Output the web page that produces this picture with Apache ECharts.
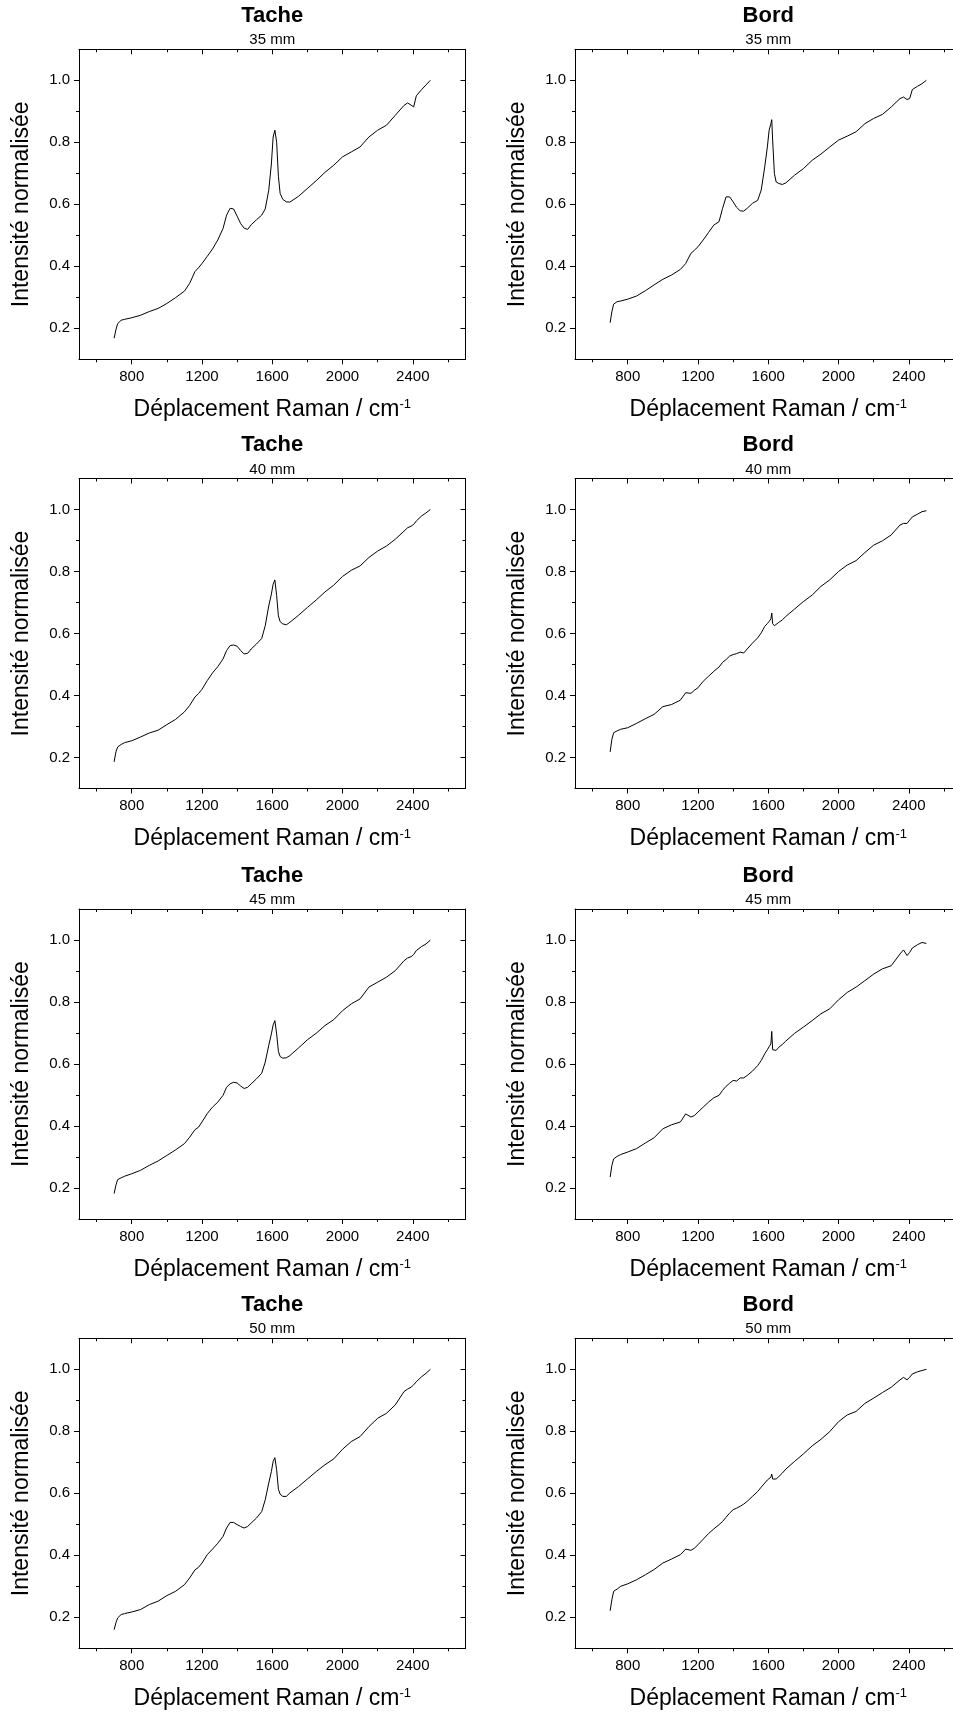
<!DOCTYPE html>
<html>
<head>
<meta charset="utf-8">
<script src="https://cdn.jsdelivr.net/npm/echarts@6/dist/echarts.min.js"></script>
<style>
html,body{margin:0;padding:0;background:#fff;overflow:hidden;}
#chart{width:953px;height:1715px;}
</style>
</head>
<body>
<div id="chart"></div>
<script>
// ---- Data ----
const ramanShift = [700,710,720,740,760,800,850,900,950,1000,1050,1100,1130,1160,1180,1200,1230,1260,1290,1320,1340,1360,1380,1400,1420,1440,1460,1480,1510,1540,1560,1580,1595,1605,1615,1620,1625,1635,1645,1660,1680,1700,1750,1800,1850,1900,1950,2000,2050,2100,2150,2200,2250,2300,2350,2370,2390,2405,2420,2450,2475,2500];

const tache35 = [.168,.195,.215,.226,.229, .234,.242,.254,.264,.280, .299,.320,.345,.383,.395, .409,.432,.456,.485,.522, .565,.587,.585,.562,.538, .523,.519,.534,.550,.565, .585,.645,.730,.817,.839, .845,.800,.690,.635,.616, .608,.607,.626,.651,.676, .703,.726,.753,.769,.785, .817,.839,.855,.887,.919, .927,.920,.914,.950,.970, .985,1.0];
const bord35 = [.218,.254,.278,.286,.288, .294,.304,.321,.340,.358, .372,.390,.409,.442,.452, .463,.485,.509,.533,.544, .587,.624,.624,.608,.590, .579,.578,.587,.603,.613, .646,.721,.785,.839,.860, .873,.807,.699,.672,.667, .664,.669,.694,.715,.742, .762,.785,.807,.820,.834, .860,.877,.890,.914,.941, .946,.938,.941,.970,.981, .989,1.0];
const tache40 = [.186,.218,.234,.242,.248, .254,.266,.279,.288,.306, .323,.347,.368,.395,.406, .420,.448,.473,.493,.518, .545,.561,.563,.559,.545, .534,.536,.550,.566,.584, .625,.689,.727,.759,.773, .775,.722,.657,.638,.631, .628,.636,.659,.684,.708, .734,.756,.784,.804,.818, .845,.866,.882,.904,.930, .941,.946,.952,.963,.979, .989,1.0];
const bord40 = [.218,.259,.280,.286,.291, .296,.310,.325,.339,.364, .371,.385,.409,.407,.417, .425,.446,.462,.478,.492, .507,.516,.527,.532,.535, .540,.537,.550,.569,.586, .602,.623,.632,.639,.647, .666,.632,.625,.628,.636, .644,.655,.679,.703,.724, .752,.773,.800,.821,.835, .861,.885,.899,.918,.950, .955,.955,.966,.976,.985, .993,.996];
const tache45 = [.182,.209,.227,.233,.238, .246,.257,.273,.287,.305, .323,.343,.364,.388,.396, .413,.440,.461,.477,.499, .525,.536,.541,.539,.529, .521,.525,.536,.552,.570, .606,.660,.697,.726,.740, .740,.697,.641,.624,.619, .620,.627,.652,.678,.699, .724,.743,.772,.794,.810, .848,.864,.880,.901,.933, .942,.946,.953,.966,.979, .987,1.0];
const bord45 = [.235,.273,.294,.302,.308, .316,.327,.345,.362,.391, .404,.413,.439,.429,.434, .445,.461,.477,.491,.499, .515,.528,.538,.547,.545, .555,.555,.563,.577,.595, .611,.633,.646,.656,.665, .705,.646,.641,.644,.654, .663,.674,.699,.719,.740, .762,.778,.807,.831,.848, .869,.890,.907,.917,.955, .968,.950,.960,.974,.985, .992,.989];
const tache50 = [.160,.182,.198,.209,.212, .217,.225,.241,.252,.270, .284,.305,.327,.353,.361, .375,.402,.420,.439,.461, .488,.506,.506,.499,.493, .488,.493,.504,.520,.541, .579,.633,.670,.703,.715, .721,.676,.613,.597,.590, .590,.601,.622,.646,.670, .692,.711,.742,.767,.783, .815,.842,.858,.885,.928, .936,.942,.950,.960,.976, .987,1.0];
const bord50 = [.221,.257,.284,.291,.300, .308,.321,.337,.354,.375, .388,.402,.420,.416,.423, .434,.452,.470,.485,.499, .509,.523,.536,.547,.552, .558,.565,.574,.590,.606, .620,.633,.643,.649,.652, .662,.646,.643,.646,.654, .665,.678,.703,.727,.753, .774,.799,.831,.853,.864, .890,.907,.925,.942,.966, .974,.966,.974,.985,.992, .996,1.0];

const panelTitles = ['Tache', 'Bord'];
const distances = ['35 mm', '40 mm', '45 mm', '50 mm'];
const xTickLabels = [800, 1200, 1600, 2000, 2400];
const xMinorTicks = [600, 1000, 1400, 1800, 2200, 2600];
const yTickLabels = [0.2, 0.4, 0.6, 0.8, 1.0];
const yMinorTicks = [0.3, 0.5, 0.7, 0.9];
const xName = 'Déplacement Raman / cm';
const xNameSup = '-1';
const yName = 'Intensité normalisée';

const panelData = [tache35, bord35, tache40, bord40, tache45, bord45, tache50, bord50];

// ---- Layout / style ----
const FONT = 'Liberation Sans, Arial, sans-serif';
const colLeft = [79, 575];
const rowTop = [49.3, 478.5, 909, 1338.3];
const plotW = 386.5, plotH = 310;
const X_MIN = 500, X_MAX = 2700, Y_MIN = 0.1, Y_MAX = 1.1;
const black = '#000';

const grid = [], xAxis = [], yAxis = [], series = [], graphic = [];

panelData.forEach((vals, i) => {
  const row = Math.floor(i / 2), col = i % 2;
  const left = colLeft[col], top = rowTop[row];
  grid.push({ left: left, top: top, width: plotW, height: plotH, containLabel: false, outerBoundsMode: 'none' });

  const xb = { type: 'value', gridIndex: i, min: X_MIN, max: X_MAX, splitLine: { show: false } };
  const yb = { type: 'value', gridIndex: i, min: Y_MIN, max: Y_MAX, splitLine: { show: false } };
  const lineOn = { show: true, onZero: false, lineStyle: { color: black, width: 1 } };
  const lineOff = { show: false, onZero: false };

  // bottom main axis
  xAxis.push(Object.assign({}, xb, {
    position: 'bottom', axisLine: lineOn,
    axisTick: { show: true, inside: false, length: 5, customValues: xTickLabels, lineStyle: { color: black, width: 1 } },
    axisLabel: { show: true, customValues: xTickLabels, formatter: v => String(v), margin: 10, fontSize: 15, color: black, fontFamily: FONT },
    name: xName + '{sup|' + xNameSup + '}', nameLocation: 'middle', nameGap: 39,
    nameTextStyle: { fontSize: 23, color: black, fontFamily: FONT,
      rich: { sup: { fontSize: 13, color: black, fontFamily: FONT, verticalAlign: 'top' } } }
  }));
  // bottom minor ticks
  xAxis.push(Object.assign({}, xb, {
    position: 'bottom', axisLine: lineOff,
    axisTick: { show: true, inside: false, length: 3, customValues: xMinorTicks, lineStyle: { color: black, width: 1 } },
    axisLabel: { show: false }
  }));
  // top main
  xAxis.push(Object.assign({}, xb, {
    position: 'top', axisLine: lineOn,
    axisTick: { show: true, inside: true, length: 5, customValues: xTickLabels, lineStyle: { color: black, width: 1 } },
    axisLabel: { show: false }
  }));
  // top minor
  xAxis.push(Object.assign({}, xb, {
    position: 'top', axisLine: lineOff,
    axisTick: { show: true, inside: true, length: 3, customValues: xMinorTicks, lineStyle: { color: black, width: 1 } },
    axisLabel: { show: false }
  }));

  // left main
  yAxis.push(Object.assign({}, yb, {
    position: 'left', axisLine: lineOn,
    axisTick: { show: true, inside: false, length: 5, customValues: yTickLabels, lineStyle: { color: black, width: 1 } },
    axisLabel: { show: true, customValues: yTickLabels, formatter: v => Number(v).toFixed(1), margin: 9, fontSize: 15, color: black, fontFamily: FONT },
    name: yName, nameLocation: 'middle', nameGap: 46,
    nameTextStyle: { fontSize: 23, color: black, fontFamily: FONT }
  }));
  // left minor
  yAxis.push(Object.assign({}, yb, {
    position: 'left', axisLine: lineOff,
    axisTick: { show: true, inside: false, length: 3, customValues: yMinorTicks, lineStyle: { color: black, width: 1 } },
    axisLabel: { show: false }
  }));
  // right main
  yAxis.push(Object.assign({}, yb, {
    position: 'right', axisLine: lineOn,
    axisTick: { show: true, inside: true, length: 5, customValues: yTickLabels, lineStyle: { color: black, width: 1 } },
    axisLabel: { show: false }
  }));
  // right minor
  yAxis.push(Object.assign({}, yb, {
    position: 'right', axisLine: lineOff,
    axisTick: { show: true, inside: true, length: 3, customValues: yMinorTicks, lineStyle: { color: black, width: 1 } },
    axisLabel: { show: false }
  }));

  series.push({
    type: 'line', xAxisIndex: i * 4, yAxisIndex: i * 4,
    data: ramanShift.map((x, k) => [x, vals[k]]),
    showSymbol: false, symbol: 'none', smooth: false,
    lineStyle: { color: black, width: 1 }, silent: true, animation: false
  });

  const cx = left + plotW / 2;
  graphic.push({ type: 'text', x: cx, y: top - 33.3, silent: true,
    style: { text: panelTitles[col], fontSize: 22, fontWeight: 'bold', fontFamily: FONT, fill: black, align: 'center', verticalAlign: 'middle' } });
  graphic.push({ type: 'text', x: cx, y: top - 9, silent: true,
    style: { text: distances[row], fontSize: 15, fontFamily: FONT, fill: black, align: 'center', verticalAlign: 'middle' } });
});

const chart = echarts.init(document.getElementById('chart'), null, { renderer: 'canvas' });
chart.setOption({
  backgroundColor: '#fff',
  animation: false,
  grid: grid, xAxis: xAxis, yAxis: yAxis, series: series, graphic: graphic
});
</script>
</body>
</html>
